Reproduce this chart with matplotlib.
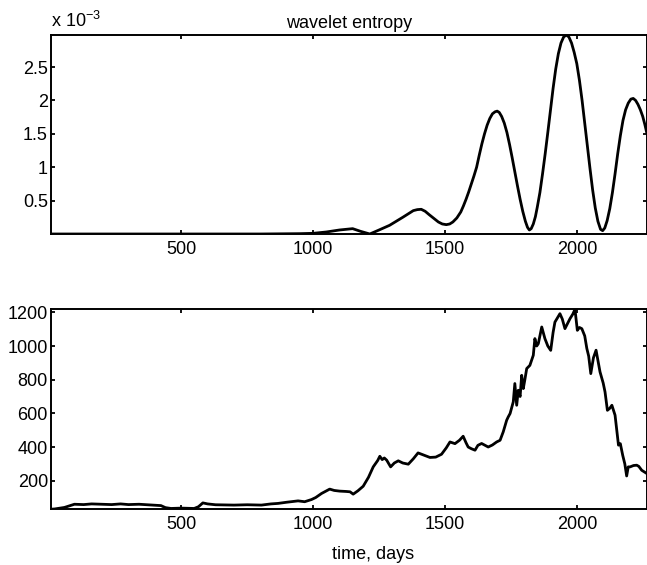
import numpy as np
import matplotlib
matplotlib.use("Agg")
import matplotlib.pyplot as plt

plt.rcParams['font.family'] = ['Liberation Sans', 'DejaVu Sans']
plt.rcParams['mathtext.fontset'] = 'custom'
plt.rcParams['mathtext.rm'] = 'Liberation Sans'
plt.rcParams['mathtext.it'] = 'Liberation Sans:italic'
plt.rcParams['mathtext.bf'] = 'Liberation Sans:bold'

# ---- data: wavelet entropy (units of 1e-3) ----
ent_days = [1, 200, 400, 600, 800, 950, 1000, 1050, 1100, 1150, 1180, 1215, 1250,
            1290, 1340, 1380, 1395, 1410, 1425, 1440, 1475, 1490, 1505, 1518,
            1530, 1545, 1560, 1570, 1580, 1590, 1600, 1610, 1620, 1630, 1640, 1650,
            1660, 1670, 1680, 1690, 1698, 1706, 1715, 1725, 1735, 1745, 1755, 1765,
            1775, 1785, 1795, 1805, 1813, 1820, 1827, 1835, 1843, 1850, 1860, 1870,
            1880, 1890, 1900, 1910, 1920, 1930, 1940, 1950, 1960, 1970, 1980, 1990,
            2000, 2010, 2020, 2030, 2040, 2050, 2060, 2070, 2080, 2090, 2098, 2106,
            2115, 2125, 2135, 2145, 2155, 2165, 2175, 2185, 2195, 2205, 2214, 2223,
            2232, 2241, 2250, 2258, 2265]
ent_e3 = [0.0, 0.0, 0.0, 0.0, 0.0, 0.005, 0.01, 0.03, 0.06, 0.08, 0.04, 0.0, 0.06,
          0.13, 0.25, 0.35, 0.365, 0.37, 0.34, 0.29, 0.18, 0.15, 0.14, 0.15,
          0.18, 0.24, 0.33, 0.42, 0.52, 0.63, 0.75, 0.87, 1.0, 1.18, 1.35, 1.5,
          1.63, 1.73, 1.80, 1.83, 1.84, 1.82, 1.76, 1.66, 1.52, 1.34, 1.14, 0.93,
          0.72, 0.52, 0.34, 0.19, 0.10, 0.06, 0.08, 0.15, 0.26, 0.40, 0.62, 0.90,
          1.20, 1.52, 1.85, 2.18, 2.47, 2.70, 2.86, 2.95, 2.98, 2.95, 2.86, 2.72,
          2.55, 2.30, 2.00, 1.66, 1.32, 0.98, 0.66, 0.39, 0.19, 0.07, 0.05, 0.09,
          0.20, 0.38, 0.62, 0.90, 1.20, 1.47, 1.70, 1.86, 1.96, 2.02, 2.03, 2.00,
          1.94, 1.86, 1.76, 1.64, 1.52]

# ---- data: price series ----
price_days = [1, 20, 57, 95, 130, 160, 200, 236, 270, 300, 340, 380, 423, 440, 461,
              500, 549, 565, 582, 600, 630, 700, 750, 804, 840, 867, 900, 943, 968,
              994, 1010, 1032, 1063, 1080, 1101, 1125, 1140, 1152, 1170, 1190, 1210,
              1228, 1245, 1253, 1262, 1270, 1279, 1294, 1308, 1323, 1340, 1361, 1380,
              1398, 1420, 1443, 1465, 1487, 1505, 1519, 1538, 1555, 1569, 1580, 1588,
              1600, 1614, 1625, 1639, 1664, 1680, 1696, 1709, 1721, 1734, 1740, 1747,
              1759, 1765, 1772, 1778, 1785, 1791, 1797, 1803, 1810, 1822, 1835, 1841,
              1848, 1854, 1867, 1879, 1890, 1901, 1910, 1917, 1936, 1945, 1955, 1974,
              1985, 1993, 2002, 2010, 2019, 2030, 2038, 2045, 2053, 2063, 2073, 2088,
              2100, 2107, 2116, 2125, 2133, 2145, 2158, 2165, 2174, 2182, 2189, 2195,
              2202, 2215, 2227, 2235, 2246, 2265]
price = [30, 32, 41, 60, 58, 62, 60, 58, 62, 58, 60, 56, 52, 40, 35,
         37, 35, 45, 68, 62, 57, 55, 57, 55, 62, 65, 72, 80, 75,
         88, 100, 124, 150, 142, 138, 136, 134, 120, 140, 167, 220,
         282, 320, 345, 325, 335, 322, 282, 305, 318, 305, 298, 330,
         365, 352, 338, 340, 357, 395, 430, 420, 440, 464, 425, 400,
         390, 381, 410, 421, 400, 412, 430, 440, 490, 559, 579, 599,
         668, 777, 648, 737, 700, 826, 747, 800, 866, 885, 945, 1044,
         1000, 1014, 1113, 1044, 1000, 974, 1080, 1142, 1192, 1160, 1103, 1162,
         1190, 1218, 1093, 1110, 1103, 1060, 985, 940, 836, 930, 975, 846,
         780, 727, 618, 630, 648, 589, 411, 420, 351, 300, 228, 282,
         282, 290, 292, 285, 262, 243]

xticks = [500, 1000, 1500, 2000]
ent_yticks = [0.5, 1, 1.5, 2, 2.5]
ent_yticklabels = ['0.5', '1', '1.5', '2', '2.5']
price_yticks = [200, 400, 600, 800, 1000, 1200]

W, H = 647, 565
fig = plt.figure(figsize=(W / 100, H / 100), dpi=100)

ax1 = fig.add_axes([50.7 / W, 1 - 234 / H, 596 / W, 199 / H])
ax2 = fig.add_axes([50.7 / W, 1 - 509.3 / H, 596 / W, 200 / H])

ax1.plot(ent_days, ent_e3, color='black', lw=2.0)
ax1.set_xlim(5, 2265)
ax1.set_ylim(min(ent_e3), max(ent_e3))
ax1.set_yticks(ent_yticks)
ax1.set_yticklabels(ent_yticklabels)
ax1.set_title('wavelet entropy', fontsize=13, pad=5)
ax1.text(0.0, 1.02, r'x 10$^{-3}$', transform=ax1.transAxes, fontsize=13,
         ha='left', va='bottom')

ax2.plot(price_days, price, color='black', lw=2.0)
ax2.set_xlim(5, 2265)
ax2.set_ylim(min(price), max(price))
ax2.set_yticks(price_yticks)
ax2.set_xlabel('time, days', fontsize=13)
ax2.xaxis.set_label_coords(0.541, -0.185)

for ax in (ax1, ax2):
    ax.set_xticks(xticks)
    ax.tick_params(axis='both', direction='in', top=True, right=True, length=3,
                   width=1.3, labelsize=13)
    ax.tick_params(axis='y', pad=2)
    ax.tick_params(axis='x', pad=5)
    for s in ax.spines.values():
        s.set_linewidth(1.4)

fig.savefig('out.png', dpi=100)
